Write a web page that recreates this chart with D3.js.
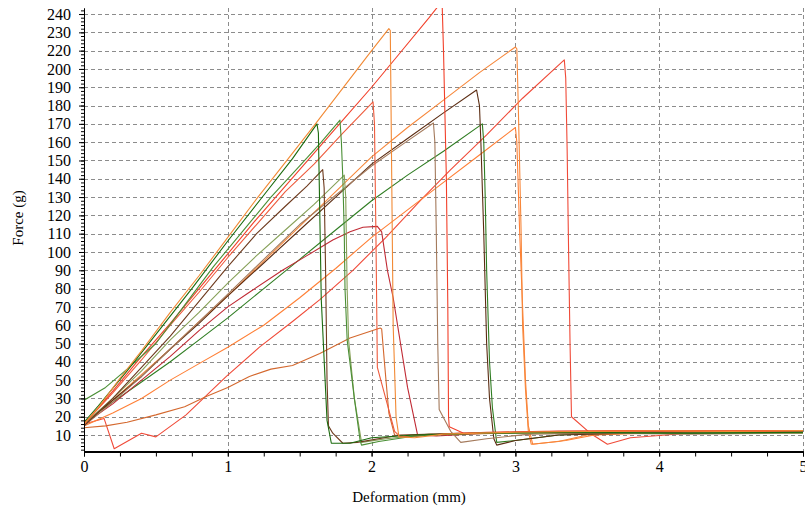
<!DOCTYPE html>
<html>
<head>
<meta charset="utf-8">
<script src="https://cdn.jsdelivr.net/npm/d3@7"></script>
<style>
  body { margin: 0; background: #fff; }
  svg text { font-family: "Liberation Serif", "DejaVu Serif", serif !important; }
</style>
</head>
<body>
<div id="chart-area"></div>
<script>
/*
*    force / deformation curves
*/
var xTicks = [0, 1, 2, 3, 4, 5]
var yTickValues = [10, 20, 30, 40, 50, 60, 70, 80, 90, 100, 110, 120, 130, 140, 150, 160, 170, 180, 190, 200, 210, 220, 230, 240]
var yTickLabels = ["10", "20", "30", "50", "40", "50", "60", "70", "80", "90", "100", "110", "120", "130", "140", "150", "160", "170", "180", "190", "200", "220", "230", "240"]

// each series: [deformation (mm), force (g)]
var seriesA = [[0,16],[0.1,25],[0.25,41],[0.4,56],[0.6,77],[0.8,97],[1.0,118],[1.2,139],[1.4,159],[1.6,179],[1.8,199.5],[2.0,220],[2.12,232],[2.13,231],[2.14,150],[2.15,70],[2.17,20],[2.19,9],[2.3,8.5],[2.5,10.5],[3,11.5],[3.5,12],[4,12.3],[4.5,12],[5,12.5]]
var seriesB = [[0,17],[0.1,26],[0.3,45],[0.5,65],[0.75,90],[1.0,116],[1.25,141],[1.45,161],[1.62,180],[1.63,175],[1.65,84],[1.69,18],[1.72,5.5],[1.85,5.5],[2.0,8.5],[2.3,10],[2.8,11],[3.5,11.5],[4.2,11],[5,11.5]]
var seriesC = [[0,29],[0.15,36],[0.3,46],[0.5,60],[0.7,81],[0.9,102],[1.1,121],[1.3,140],[1.5,157],[1.65,170],[1.78,182],[1.79,170],[1.8,150],[1.81,120],[1.815,90],[1.83,62],[1.88,30],[1.92,7],[1.93,4.5],[2.05,6.5],[2.3,9.5],[2.7,11],[3.2,11.5],[4,11],[5,11.5]]
var seriesD = [[0,16],[0.2,34],[0.4,53],[0.6,71],[0.8,90],[1.0,109],[1.2,128],[1.4,146],[1.6,164],[1.8,182],[2.0,200],[2.2,219],[2.4,238],[2.49,247],[2.5,220],[2.52,150],[2.53,80],[2.535,20],[2.54,14.5],[2.64,11],[2.8,11.5],[3.2,12],[3.8,12.5],[4.4,12],[5,12.5]]
var seriesE = [[0,16],[0.2,33],[0.4,51],[0.6,70],[0.8,88],[1.0,107],[1.2,125],[1.4,143],[1.6,158],[1.8,175],[2.01,192],[2.02,180],[2.03,120],[2.04,47],[2.16,12],[2.2,9],[2.3,9.5],[2.6,11],[3.1,11.5],[3.7,12],[4.3,12.5],[5,12]]
var seriesF = [[0,15],[0.2,30],[0.4,47],[0.6,64],[0.8,83],[1.0,102],[1.2,120],[1.4,135],[1.55,146],[1.66,155],[1.67,145],[1.68,100],[1.69,40],[1.7,15],[1.73,11],[1.8,5.5],[1.9,6],[2.2,10],[2.6,11],[3,11.5],[3.6,11],[4.3,11.5],[5,11.5]]
var seriesG = [[0,16],[0.2,30],[0.4,45],[0.6,62],[0.8,77],[1.0,93],[1.2,108],[1.4,122],[1.6,136],[1.81,152],[1.82,140],[1.83,90],[1.84,62],[1.88,30],[1.93,6],[2.1,8],[2.4,10.5],[3,11],[4,11.5],[5,11]]
var seriesH = [[0,16],[0.2,29],[0.4,43],[0.6,57],[0.8,72],[1.0,86],[1.25,105],[1.5,124],[1.75,143],[2.0,162],[2.25,178],[2.5,193],[2.75,208],[3.0,222],[3.01,221],[3.02,190],[3.04,120],[3.05,70],[3.07,35],[3.09,12],[3.11,5],[3.3,6.5],[3.5,10],[4,11.5],[4.5,12.5],[5,12]]
var seriesI = [[0,16],[0.2,29],[0.4,42],[0.6,57],[0.8,71],[1.0,86],[1.25,104],[1.5,122],[1.75,140],[2.0,158],[2.25,172],[2.5,186],[2.73,198.5],[2.75,190],[2.76,170],[2.78,120],[2.8,60],[2.82,30],[2.85,8],[2.87,4.5],[3.0,7],[3.3,10],[3.8,11],[4.5,11],[5,11]]
var seriesJ = [[0,15],[0.2,28],[0.4,42],[0.6,57],[0.8,72],[1.0,87],[1.25,106],[1.5,125],[1.75,141],[2.0,157],[2.2,168],[2.43,180.5],[2.44,170],[2.45,120],[2.46,60],[2.47,24],[2.55,12],[2.62,6],[2.8,8],[3.1,10.5],[3.6,11],[4.2,10.5],[5,11]]
var seriesK = [[0,17],[0.2,28],[0.4,39],[0.6,50],[0.8,62],[1.0,74],[1.25,90],[1.5,106],[1.75,122],[2.0,138],[2.25,152],[2.5,165],[2.77,180],[2.78,170],[2.79,140],[2.8,100],[2.82,50],[2.84,25],[2.87,6],[3.0,7],[3.3,10],[3.8,11.5],[4.5,11],[5,11.5]]
var seriesL = [[0,15],[0.2,22],[0.4,30],[0.6,40],[0.8,49],[1.0,58],[1.25,70],[1.5,85],[1.75,101],[2.0,118],[2.25,133],[2.5,148],[2.75,163],[3.0,178],[3.01,170],[3.03,120],[3.05,80],[3.07,40],[3.09,15],[3.12,5],[3.35,7],[3.55,10],[4.1,11.5],[4.6,12],[5,12]]
var seriesM = [[0,16],[0.14,19],[0.21,2.5],[0.4,11],[0.5,9],[0.71,21],[0.99,42],[1.22,58],[1.45,72],[1.64,84],[1.87,100],[2.1,118],[2.35,139],[2.55,155],[2.8,174],[3.05,194],[3.34,215],[3.35,205],[3.36,165],[3.37,110],[3.38,60],[3.39,20],[3.52,11],[3.64,5],[3.8,8.5],[4.2,11],[4.6,12],[5,12.5]]
var seriesN = [[0,16],[0.2,27],[0.4,40],[0.6,53],[0.8,67],[1.0,80],[1.15,88],[1.38,100],[1.55,108],[1.73,116.5],[1.85,121],[1.94,123.5],[2.04,124],[2.07,121],[2.11,100],[2.15,85],[2.25,36],[2.32,10],[2.45,9.5],[2.8,11],[3.3,12],[4,12],[4.6,12.5],[5,12]]
var seriesO = [[0,14],[0.15,15],[0.3,17],[0.5,21],[0.7,25.5],[0.85,31],[1.0,36],[1.15,42],[1.3,46],[1.45,48],[1.64,54.5],[1.85,63],[2.06,68.5],[2.07,68],[2.09,49],[2.12,22],[2.16,10],[2.25,9],[2.5,10.5],[3,11],[3.5,11.5],[4,11],[5,11.5]]

var seriesList = [seriesM, seriesO, seriesL, seriesK, seriesN, seriesH, seriesI, seriesJ, seriesG, seriesF, seriesE, seriesD, seriesC, seriesB, seriesA]
var seriesColors = ["#f04a38", "#d4682e", "#ff7f35", "#2f7d22", "#c02a34", "#f7873a", "#5b2c12", "#a47a5c", "#86a058", "#6e3a1e", "#ee5a3c", "#f2402a", "#4a8f35", "#1b6b0e", "#f28a35"]

var width = 805
var height = 510
var serif = "'Liberation Serif', 'DejaVu Serif', serif"

var svg = d3.select("#chart-area")
    .append("svg")
    .attr("width", width)
    .attr("height", height)

var x = d3.scaleLinear().domain([0, 5]).range([84, 803])
var y = d3.scaleLinear().domain([1, 243.3]).range([451.5, 8])

// grid
svg.append("g").selectAll("line")
    .data(yTickValues)
    .enter().append("line")
    .attr("x1", x(0)).attr("x2", x(5))
    .attr("y1", d => Math.round(y(d)) + 0.5).attr("y2", d => Math.round(y(d)) + 0.5)
    .attr("stroke", "#8c8c8c").attr("stroke-dasharray", "4,3")

svg.append("g").selectAll("line")
    .data(xTicks.slice(1))
    .enter().append("line")
    .attr("x1", d => Math.round(x(d)) + 0.5).attr("x2", d => Math.round(x(d)) + 0.5)
    .attr("y1", y.range()[1]).attr("y2", y.range()[0])
    .attr("stroke", "#8c8c8c").attr("stroke-dasharray", "4,3")

// curves
svg.append("clipPath").attr("id", "plot-clip")
    .append("rect")
    .attr("x", 84).attr("y", 8).attr("width", 720).attr("height", 444)

var line = d3.line().x(d => x(d[0])).y(d => y(d[1]))

svg.append("g").attr("clip-path", "url(#plot-clip)")
    .selectAll("path")
    .data(seriesList)
    .enter().append("path")
    .attr("d", line)
    .attr("fill", "none")
    .attr("stroke", (d, i) => seriesColors[i])
    .attr("stroke-width", 1.1)
    .attr("stroke-linejoin", "round")

// left axis
var leftMinor = d3.axisLeft(y).tickValues(d3.range(2, 243, 2)).tickSize(3).tickSizeOuter(0).tickFormat("")
svg.append("g").attr("transform", "translate(84,0)").call(leftMinor)

var leftAxis = d3.axisLeft(y).tickValues(yTickValues).tickSize(5).tickSizeOuter(0).tickPadding(8)
    .tickFormat((d, i) => yTickLabels[i])
var gLeft = svg.append("g").attr("transform", "translate(84,0)").call(leftAxis)
gLeft.attr("font-family", serif)
gLeft.selectAll("text").attr("font-size", "16px").attr("fill", "#000").style("font-family", serif)

// bottom axis
var bottomMinor = d3.axisBottom(x).tickValues(d3.range(0, 5.01, 0.25)).tickSize(5).tickSizeOuter(0).tickFormat("")
svg.append("g").attr("transform", "translate(0,451.5)").call(bottomMinor)

var bottomAxis = d3.axisBottom(x).tickValues(xTicks).tickSize(5).tickSizeOuter(0).tickPadding(4)
    .tickFormat(d3.format("d"))
var gBottom = svg.append("g").attr("transform", "translate(0,451.5)").call(bottomAxis)
gBottom.attr("font-family", serif)
gBottom.selectAll("text").attr("font-size", "16px").attr("fill", "#000").style("font-family", serif)
gBottom.select(".domain").attr("stroke-width", 2)

svg.append("text")
    .attr("x", 409)
    .attr("y", 502)
    .attr("font-size", "15px")
    .attr("text-anchor", "middle")
    .style("font-family", serif)
    .style("fill", "black")
    .text("Deformation (mm)")

svg.append("text")
    .attr("transform", "translate(23,218) rotate(-90)")
    .attr("font-size", "15px")
    .attr("text-anchor", "middle")
    .style("font-family", serif)
    .style("fill", "black")
    .text("Force (g)")
</script>
</body>
</html>
